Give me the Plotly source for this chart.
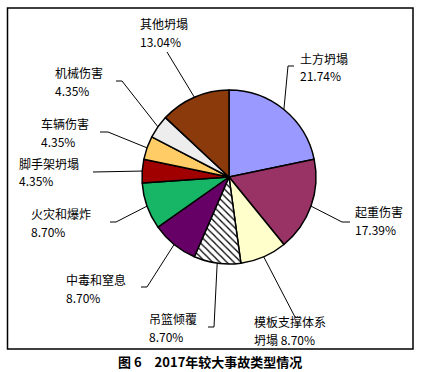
import math
import plotly.graph_objects as go

# ---- data ----
categories = ["土方坍塌", "起重伤害", "模板支撑体系坍塌", "吊篮倾覆", "中毒和窒息",
              "火灾和爆炸", "脚手架坍塌", "车辆伤害", "机械伤害", "其他坍塌"]
percent_values = [21.74, 17.39, 8.70, 8.70, 8.70, 8.70, 4.35, 4.35, 4.35, 13.04]
label_line1 = ["土方坍塌", "起重伤害", "模板支撑体系", "吊篮倾覆", "中毒和窒息",
               "火灾和爆炸", "脚手架坍塌", "车辆伤害", "机械伤害", "其他坍塌"]
label_line2 = ["21.74%", "17.39%", "坍塌 8.70%", "8.70%", "8.70%",
               "8.70%", "4.35%", "4.35%", "4.35%", "13.04%"]
slice_colors = ["#9999FF", "#993366", "#FFFFCC", "#FFFFFF", "#660066",
                "#17B566", "#A00000", "#FFCC66", "#EDEDED", "#8B3A0B"]
patterns = ["", "", "", "\\", "", "", "", "", "", ""]

W, H = 421, 372
CX, CY, R = 229, 177, 87


def px(x):
    return x / W


def py(y):
    return 1 - y / H


fig = go.Figure(go.Pie(
    labels=categories,
    values=percent_values,
    sort=False,
    direction="clockwise",
    rotation=0,
    textinfo="none",
    hoverinfo="none",
    showlegend=False,
    marker=dict(colors=slice_colors,
                line=dict(color="#000000", width=1.5),
                pattern=dict(shape=patterns, fgcolor="#000000", bgcolor="#FFFFFF",
                             size=5, solidity=0.25)),
    domain=dict(x=[px(CX - R), px(CX + R)], y=[py(CY + R), py(CY - R)]),
))

# label placement (top-left of text block, pixels) and leader elbow points
label_pos = [(298, 48), (353, 201), (252, 311), (147, 308), (64, 269),
             (29, 203), (17, 153), (39, 113), (53, 62), (138, 13)]
elbows = [
    [(294, 66), (288, 66)],
    [(350, 222), (342, 222)],
    [(295, 317)],
    [(208, 327), (214, 327)],
    [(141, 287), (147, 287)],
    [(110, 222), (116, 222)],
    [(93, 172)],
    [(100, 132), (108, 132)],
    [(116, 81), (122, 81)],
    [(167, 52)],
]
PITCH = 17.5
FS = 12

total = sum(percent_values)
cum = 0.0
shapes = []
annotations = []
for i, v in enumerate(percent_values):
    mid = (cum + v / 2) / total * 2 * math.pi
    cum += v
    ex = CX + R * math.sin(mid)
    ey = CY - R * math.cos(mid)
    pts = elbows[i] + [(ex, ey)]
    path = "M {} {}".format(px(pts[0][0]), py(pts[0][1]))
    for (x, y) in pts[1:]:
        path += " L {} {}".format(px(x), py(y))
    shapes.append(dict(type="path", path=path, xref="paper", yref="paper",
                       line=dict(color="#000000", width=1)))
    lx, ly = label_pos[i]
    for k, txt in enumerate((label_line1[i], label_line2[i])):
        annotations.append(dict(x=px(lx), y=py(ly + k * PITCH), xref="paper", yref="paper",
                                text=txt, showarrow=False, align="left",
                                xanchor="left", yanchor="top",
                                font=dict(size=FS, color="#000000")))

# frame
shapes.append(dict(type="rect", xref="paper", yref="paper",
                   x0=px(7.5), x1=px(413), y0=py(349), y1=py(8),
                   line=dict(color="#000000", width=1.5)))

annotations.append(dict(x=px(210), y=py(361), xref="paper", yref="paper",
                        text="<b>图 6　2017年较大事故类型情况</b>", showarrow=False,
                        xanchor="center", yanchor="middle",
                        font=dict(size=13, color="#000000")))

fig.update_layout(
    width=W, height=H,
    margin=dict(l=0, r=0, t=0, b=0),
    paper_bgcolor="#FFFFFF",
    plot_bgcolor="#FFFFFF",
    font=dict(family="Noto Sans CJK SC", size=13, color="#000000"),
    shapes=shapes,
    annotations=annotations,
)

fig.write_html("out.html", config={"displayModeBar": False},
               post_script="document.body.style.margin='0';document.body.style.overflow='hidden';")
